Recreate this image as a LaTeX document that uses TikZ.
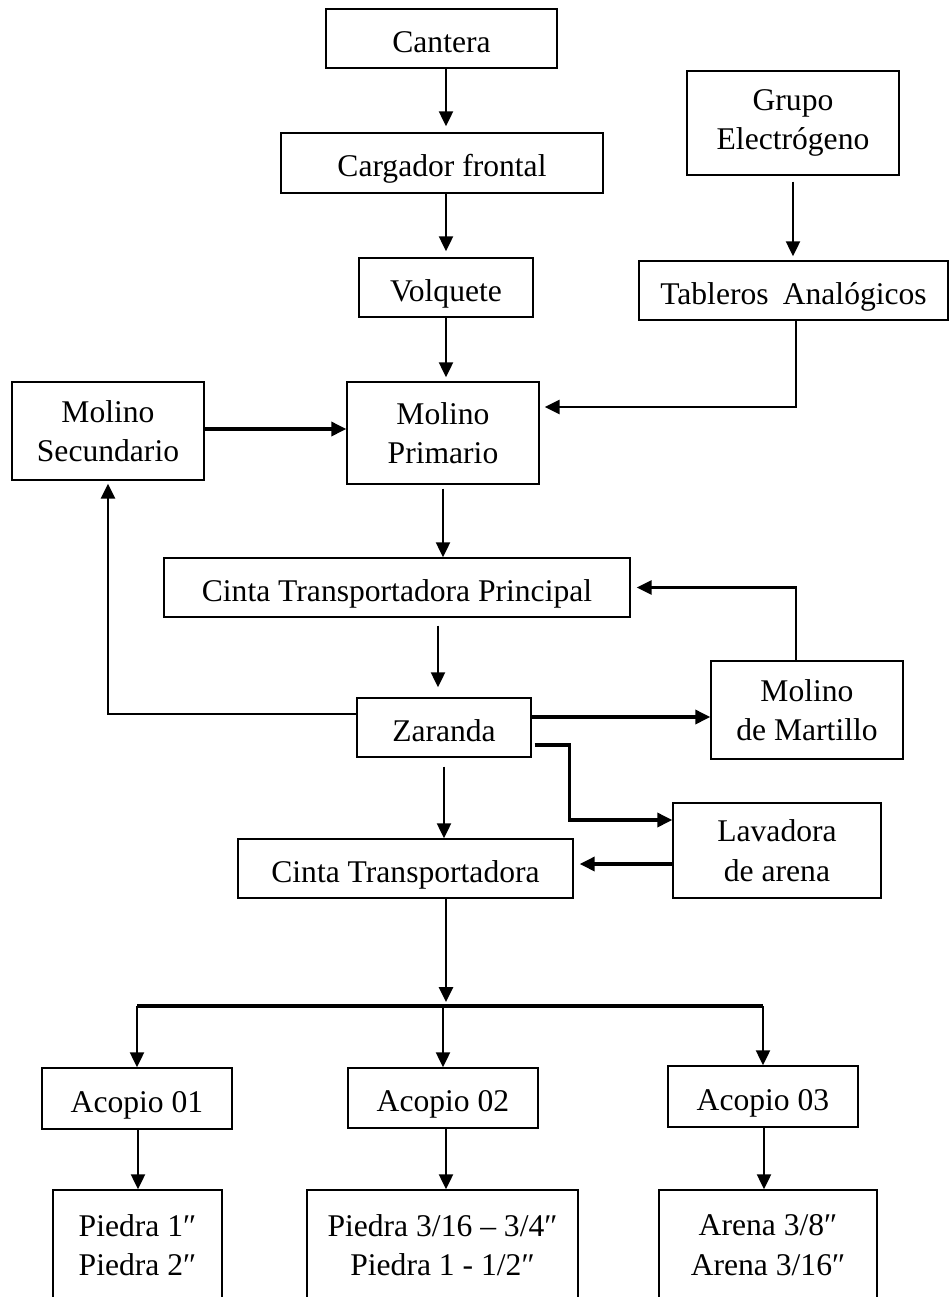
\documentclass[tikz,border=0pt]{standalone}
\usepackage{fontspec}
\setmainfont{Liberation Serif}
\usetikzlibrary{arrows.meta}
\tikzset{
  box/.style={draw, line width=0.7pt, inner sep=0pt,
    font=\fontsize{15.8}{19.8}\selectfont},
  box1/.style={box, text height=17.5pt, text depth=4pt},
  box2/.style={box, align=center},
  arr/.style={line width=1.1pt, -{Triangle[length=7.5pt,width=7pt]}},
  marr/.style={line width=1.35pt, -{Triangle[length=7.5pt,width=7pt]}},
  tarr/.style={line width=1.7pt, -{Triangle[length=7.5pt,width=7pt]}},
  tline/.style={line width=1.6pt},
}
\begin{document}
\begin{tikzpicture}[x=0.5pt,y=-0.5pt]
\useasboundingbox (0,0) rectangle (950,1297);
\clip (0,0) rectangle (950,1297);
% nodes
\node[box1, minimum width=115.5pt, minimum height=29.5pt] (cantera) at (441.5,38.5) {Cantera};
\node[box1, minimum width=161pt, minimum height=30pt] (cargador) at (442,163) {Cargador frontal};
\node[box2, minimum width=106pt, minimum height=52pt] (grupo) at (793,123) {Grupo\\Electrógeno};
\node[box1, minimum width=154.5pt, minimum height=29.5pt] (tableros) at (793.5,290.5) {Tableros\hspace{0.45em}Analógicos};
\node[box1, minimum width=87pt, minimum height=29.5pt] (volquete) at (446,287.5) {Volquete};
\node[box2, minimum width=96pt, minimum height=51pt] (primario) at (443,433) {Molino\\Primario};
\node[box2, minimum width=96pt, minimum height=49pt] (secundario) at (108,431) {Molino\\Secundario};
\node[box1, minimum width=233pt, minimum height=29.5pt] (ctp) at (397,587.5) {Cinta Transportadora Principal};
\node[box1, minimum width=87pt, minimum height=29.5pt] (zaranda) at (444,727.5) {Zaranda};
\node[box2, minimum width=96pt, minimum height=49pt] (martillo) at (807,710) {Molino\\de Martillo};
\node[box2, minimum width=104pt, minimum height=47.5pt] (lavadora) at (777,850.5) {Lavadora\\de arena};
\node[box1, minimum width=167.5pt, minimum height=29.5pt] (ct) at (405.5,868.5) {Cinta Transportadora};
\node[box1, minimum width=95pt, minimum height=30.5pt] (acopio1) at (137,1098.5) {Acopio 01};
\node[box1, minimum width=95pt, minimum height=30pt] (acopio2) at (443,1098) {Acopio 02};
\node[box1, minimum width=95pt, minimum height=30.5pt] (acopio3) at (763,1096.5) {Acopio 03};
\node[box2, minimum width=84.5pt, minimum height=55pt] (piedra1) at (137.5,1245) {Piedra 1″\\Piedra 2″};
\node[box2, minimum width=135.5pt, minimum height=55pt] (piedra2) at (442.5,1245) {Piedra 3/16 – 3/4″\\Piedra 1 - 1/2″};
\node[box2, minimum width=109pt, minimum height=55pt] (arena) at (768,1245) {Arena 3/8″\\Arena 3/16″};
\coordinate (bus) at (446,1006);
% connectors
\draw[arr, shorten >=3pt] ([xshift=2.25pt]cantera.south) -- ([xshift=2.25pt]cantera.south |- cargador.north);
\draw[arr, shorten >=3pt] ([xshift=2pt]cargador.south) -- ([xshift=2pt]cargador.south |- volquete.north);
\draw[arr, shorten >=2pt] (volquete.south) -- (volquete.south |- primario.north);
\draw[arr, shorten <=3pt, shorten >=2pt] (grupo.south) -- (grupo.south |- tableros.north);
\draw[marr, shorten >=2.5pt] ([xshift=1.25pt]tableros.south) |- ([yshift=13pt]primario.east);
\draw[tarr] ([yshift=1pt]secundario.east) -- ([yshift=2pt]primario.west);
\draw[arr, shorten <=2pt] (primario.south) -- (primario.south |- ctp.north);
\draw[marr, shorten >=3pt] ([xshift=-5.5pt]martillo.north) |- (ctp.east);
\draw[arr, shorten <=4pt, shorten >=5pt] ([xshift=-3pt]zaranda.north |- ctp.south) -- ([xshift=-3pt]zaranda.north);
\draw[marr, shorten >=1.5pt] ([yshift=6.75pt]zaranda.west) -| (secundario.south);
\draw[tarr] ([yshift=5.25pt]zaranda.east) -- ([yshift=5.25pt]zaranda.east -| martillo.west);
\draw[tarr] ([xshift=1.5pt,yshift=-8.75pt]zaranda.east) -- ++(34.5,0) |- ([yshift=15.25pt]lavadora.west);
\draw[tarr, shorten >=3pt] ([yshift=-6.75pt]lavadora.west) -- ([yshift=-6.75pt]lavadora.west -| ct.east);
\draw[arr, shorten <=4.5pt] (zaranda.south) -- (zaranda.south |- ct.north);
\draw[arr, line width=1.4pt, shorten >=2pt] (bus |- ct.south) -- (bus);
\draw[tline] (bus -| acopio1) -- (bus -| acopio3);
\draw[arr] (bus -| acopio1) -- (acopio1.north);
\draw[arr] (bus -| acopio2) -- (acopio2.north);
\draw[arr] (bus -| acopio3) -- (acopio3.north);
\draw[arr] ([xshift=0.5pt]acopio1.south) -- ([xshift=0.5pt]acopio1.south |- piedra1.north);
\draw[arr] ([xshift=1.5pt]acopio2.south) -- ([xshift=1.5pt]acopio2.south |- piedra2.north);
\draw[arr] ([xshift=0.5pt]acopio3.south) -- ([xshift=0.5pt]acopio3.south |- arena.north);
\end{tikzpicture}
\end{document}
